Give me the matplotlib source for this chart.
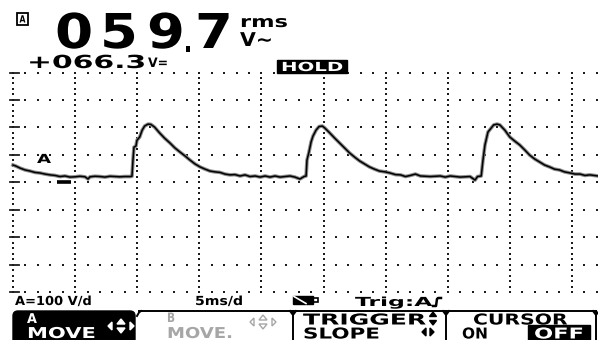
import numpy as np
import matplotlib
matplotlib.use('Agg')
import matplotlib.pyplot as plt
from matplotlib.patches import Rectangle, Polygon, FancyBboxPatch
from matplotlib.patheffects import AbstractPathEffect
from matplotlib.transforms import Affine2D

# channel A trace: time (ms from left edge of screen), volts
t_ms = [0, 0.24, 0.56, 0.97, 1.37, 1.77, 2.17, 2.58, 2.98, 3.38, 3.78, 4.19, 4.59,
        5.0, 5.39, 5.8, 6.04, 6.2, 6.6, 7.0, 7.4, 7.81, 8.2, 8.6, 9.0, 9.44, 9.58,
        9.66, 9.74, 9.9, 9.98, 10.2, 10.4, 10.6, 10.87, 11.1, 11.4, 11.8, 12.2, 12.64,
        13.04, 13.45, 13.85, 14.25, 14.65, 15.06, 15.46, 15.86, 16.26, 16.67, 17.07,
        17.47, 17.87, 18.28, 18.68, 19.08, 19.5, 19.9, 20.3, 20.7, 21.1, 21.5, 21.9,
        22.3, 22.7, 23.1, 23.43, 23.6,
        23.67, 23.83, 24.0, 24.15, 24.4, 24.64, 24.9, 25.1, 25.5, 25.9, 26.3, 26.7,
        27.1, 27.5, 27.9, 28.3, 28.7, 29.1, 29.5, 29.95, 30.35, 30.8, 31.2, 31.6,
        32.0, 32.4, 32.8, 33.6, 34.4, 34.8, 35.2, 36.0, 36.8, 37.2, 37.4, 37.7,
        37.84, 38.0, 38.24, 38.5, 38.7, 38.97, 39.2, 39.6, 40.0, 40.4, 40.8, 41.2,
        41.6, 42.0, 42.4, 42.8, 43.2, 43.6, 44.0, 44.4, 44.85, 45.25, 45.65, 46.05,
        46.45, 47.1]
volts = [63, 59, 52, 45, 41, 36, 34, 30, 27, 25, 21, 23, 19,
         20, 22, 20, 12, 20, 22, 21, 19, 22, 21, 20, 21, 21, 22,
         81, 128, 132, 153, 165, 190, 205, 212, 211, 201, 180, 161, 143,
         125, 110, 96, 81, 67, 56, 48, 41, 38, 36, 30,
         27, 28, 23, 27, 21, 23, 19, 23, 19, 23, 19, 21,
         23, 19, 12, 21, 23,
         81, 110, 147, 168, 190, 203, 205, 198, 180, 161, 143, 125,
         107, 92, 78, 67, 56, 48, 41, 38, 34, 28, 27, 21,
         25, 30, 23, 21, 23, 19, 23, 19, 21, 8, 21, 23,
         81, 136, 183, 198, 209, 212, 209, 190, 165, 150, 136, 118,
         99, 85, 74, 63, 56, 48, 45, 38, 34, 30, 30, 25,
         27, 23]

reading_ac = ['0', '5', '9', '.', '7']
reading_dc = '+066.3'
volts_div = 100
ms_div = 5

W, H = 598, 340
X0, DX = 13.0, 62.1     # left grid line, px per division
Y0, DY = 182.3, 27.45   # ground row, px per division


class Wide(AbstractPathEffect):
    # stretch text glyphs sideways (LCD font is wider than DejaVu)
    def __init__(self, sx):
        super().__init__()
        self.sx = sx

    def draw_path(self, renderer, gc, tpath, affine, rgbFace=None):
        renderer.draw_path(gc, tpath, Affine2D().scale(self.sx, 1) + affine, rgbFace)


fig = plt.figure(figsize=(W / 100, H / 100), dpi=100)
ax = fig.add_axes([0, 0, 1, 1])
ax.set_xlim(-X0 / DX * ms_div, (W - X0) / DX * ms_div)
ax.set_ylim((Y0 - H) / DY * volts_div, Y0 / DY * volts_div)
ax.axis('off')

# dotted graticule
dot = '#1c1c1c'
gx = np.arange(0, 47.5, ms_div / 5)
for v in range(-4 * volts_div, 4 * volts_div + 1, volts_div):
    ax.plot(gx, np.full(len(gx), v), 's', ms=1.45, mew=0, color=dot)
    ax.plot([-0.25, 0.45], [v, v], color=dot, lw=1.3)
gy = np.arange(-4 * volts_div, 4 * volts_div + 1, volts_div / 5)
for t in range(0, 47, ms_div):
    ax.plot(np.full(len(gy), t), gy, 's', ms=1.45, mew=0, color=dot)

# ground marker
ax.plot([3.55, 4.7], [0, 0], color='k', lw=2.6, solid_capstyle='butt')

# trace
ax.plot(t_ms, volts, color='#8c8c8c', lw=2.6)
ax.plot(t_ms, volts, color='k', lw=1.1)

# overlay in screen pixels for readouts / softkeys
ui = fig.add_axes([0, 0, 1, 1], facecolor='none')
ui.set_xlim(0, W)
ui.set_ylim(H, 0)
ui.axis('off')
renderer = fig.canvas.get_renderer()


def label(s, x0, x1, base, em, color='k'):
    t = ui.text(x0, base, s, fontsize=em * 0.72, fontweight='bold', color=color,
                ha='left', va='baseline', family=['DejaVu Sans'])
    w = t.get_window_extent(renderer).width
    t.set_path_effects([Wide((x1 - x0) / w)])
    return t


def arrows(cx, cy, parts, color, fill=True, gap=9, s=4):
    shapes = {
        'l': [(cx - gap - s, cy), (cx - gap, cy - s), (cx - gap, cy + s)],
        'r': [(cx + gap + s, cy), (cx + gap, cy - s), (cx + gap, cy + s)],
        'u': [(cx, cy - s - 3), (cx - s, cy - 2), (cx + s, cy - 2)],
        'd': [(cx, cy + s + 3), (cx - s, cy + 2), (cx + s, cy + 2)],
    }
    for p in parts:
        ui.add_patch(Polygon(shapes[p], closed=True, fill=fill, fc=color, ec=color, lw=1))


# header
ui.add_patch(Rectangle((17, 13), 11, 12, fill=False, ec='k', lw=1.3))
label('A', 19.5, 25.5, 22.5, 10)
for ch, x0, x1 in zip(reading_ac, [55, 100, 147, 183, 195], [93, 138, 185, 193, 233]):
    if ch == '.':
        label(ch, x0, x1, 52, 34)
    else:
        label(ch, x0, x1, 48, 48)
label('rms', 240, 288, 27, 16)
label('V~', 240, 273, 46, 19)
label(reading_dc, 27, 146, 68, 18)
label('V=', 148, 168, 67, 13)
ui.add_patch(Rectangle((277, 60), 70, 13, fc='k', ec='k'))
label('HOLD', 281, 343, 71, 12.5, color='w')

# channel label on screen
label('A', 37, 51, 163, 12.5)

# status line
label('A=%d V/d' % volts_div, 15, 92, 305, 12.5)
label('%dms/d' % ms_div, 195, 243, 305, 12.5)
ui.add_patch(Rectangle((293, 296), 20, 8, fc='k', ec='k'))
ui.plot([294, 306], [296.5, 303.5], color='w', lw=1.2)
ui.add_patch(Rectangle((313, 298), 5, 4, fill=False, ec='k', lw=1.2))
label('Trig:A', 355, 432, 306, 12.5)
ui.plot([433, 436, 437, 438, 441], [306, 306, 299, 298, 298], color='k', lw=1.8)

# softkeys
top = 311
ui.add_patch(FancyBboxPatch((13, top), 122, 40, boxstyle='round,pad=0,rounding_size=5',
                            fc='k', ec='k'))
label('A', 27, 37, 323, 13.5, color='w')
label('MOVE', 27, 96, 338, 15, color='w')
arrows(121, 326, 'lrud', 'w')

grey = '#a6a6a6'
label('B', 167, 175, 322, 13, color=grey)
label('MOVE.', 167, 233, 338, 15, color=grey)
arrows(263, 322, 'lrud', grey, fill=False)

ui.plot([139, 596], [top, top], color='k', lw=1.4)
ui.plot([137, 139, 141], [top + 5, top + 1.5, top], color='k', lw=1.4)
for xs in [293, 446, 596]:
    ui.plot([xs, xs], [top, 340], color='k', lw=1.4)
    ui.plot([xs - 3, xs, xs + 3], [top, top + 4, top], color='k', lw=1.4)

label('TRIGGER', 303, 427, 324.5, 15)
arrows(433, 318.5, 'ud', 'k', s=3.5)
label('SLOPE', 303, 380, 338.5, 15)
arrows(428, 332, 'lr', 'k', gap=2, s=4)

label('CURSOR', 473, 568, 324.5, 15)
label('ON', 462, 488, 338.5, 15)
ui.add_patch(Rectangle((528, 325), 62, 15, fc='k', ec='k'))
label('OFF', 534, 584, 338.5, 15, color='w')

fig.savefig('out.png', dpi=100, facecolor='white')
